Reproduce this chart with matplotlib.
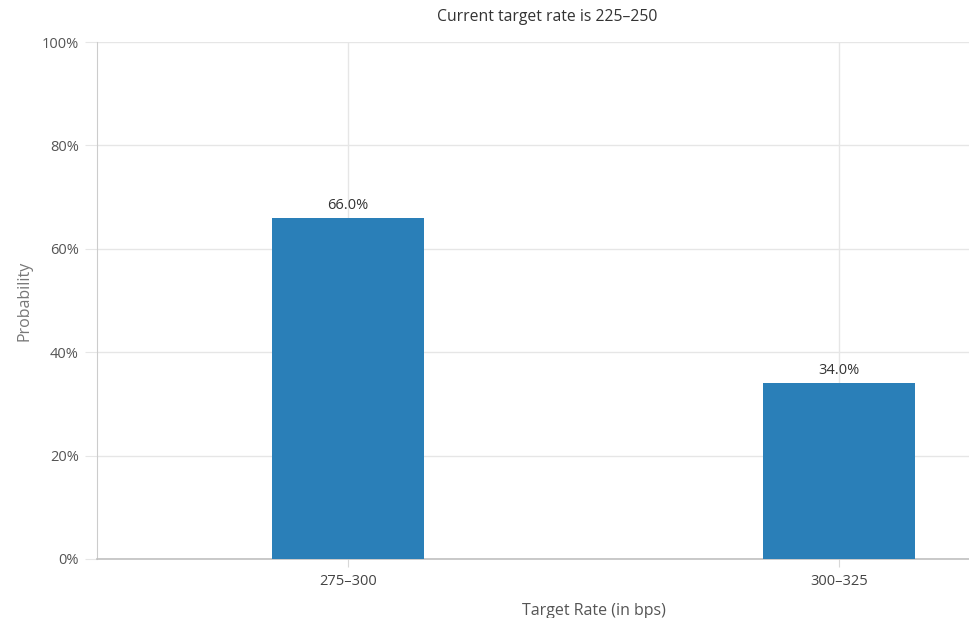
import matplotlib.pyplot as plt
import matplotlib.ticker as ticker

# data
categories = ["275–300", "300–325"]
probabilities = [66.0, 34.0]
y_ticks = [0, 20, 40, 60, 80, 100]
title = "Current target rate is 225–250"

plt.rcParams['font.family'] = ['Open Sans', 'DejaVu Sans']

fig = plt.figure(figsize=(9.69, 6.18), dpi=100)
ax = fig.add_axes([97 / 969, 59 / 618, 1 - 97 / 969, (559 - 42) / 618])

x = list(range(len(categories)))
bars = ax.bar(x, probabilities, width=0.31, color='#2a7fb8', zorder=3)

for xi, v in zip(x, probabilities):
    ax.annotate(f"{v:.1f}%", (xi, v), xytext=(0, 3.5), textcoords='offset points',
                ha='center', va='bottom', fontsize=10.5, color='#333333', zorder=4)

ax.set_xlim(-0.511, 1.265)
ax.set_ylim(0, 100)
ax.set_yticks(y_ticks)
ax.yaxis.set_major_formatter(ticker.FuncFormatter(lambda v, p: f"{v:.0f}%"))
ax.set_xticks(x)
ax.set_xticklabels(categories)

# grid
ax.grid(True, axis='both', color='#e6e6e6', linewidth=1, zorder=0)
ax.set_axisbelow(True)

for side in ['top', 'right']:
    ax.spines[side].set_visible(False)
ax.spines['left'].set_color('#cccccc')
ax.spines['bottom'].set_color('#c0c0c0')
ax.spines['bottom'].set_linewidth(1.2)

ax.tick_params(axis='y', length=9, color='#e6e6e6', labelsize=10.5, labelcolor='#555555', pad=4)
ax.tick_params(axis='x', length=6, color='#d8d8d8', labelsize=10.5, labelcolor='#444444', pad=5)

ax.set_xlabel("Target Rate (in bps)", fontsize=11.5, color='#555555')
ax.xaxis.set_label_coords((594 - 97) / 872, -0.085)
ax.set_ylabel("Probability", fontsize=11.5, color='#777777')
ax.yaxis.set_label_coords(-0.074, 0.5)

fig.text(547 / 969, 1 - 17 / 618, title, ha='center', va='center', fontsize=11.3, color='#333333')

plt.savefig("out.png", dpi=100)
